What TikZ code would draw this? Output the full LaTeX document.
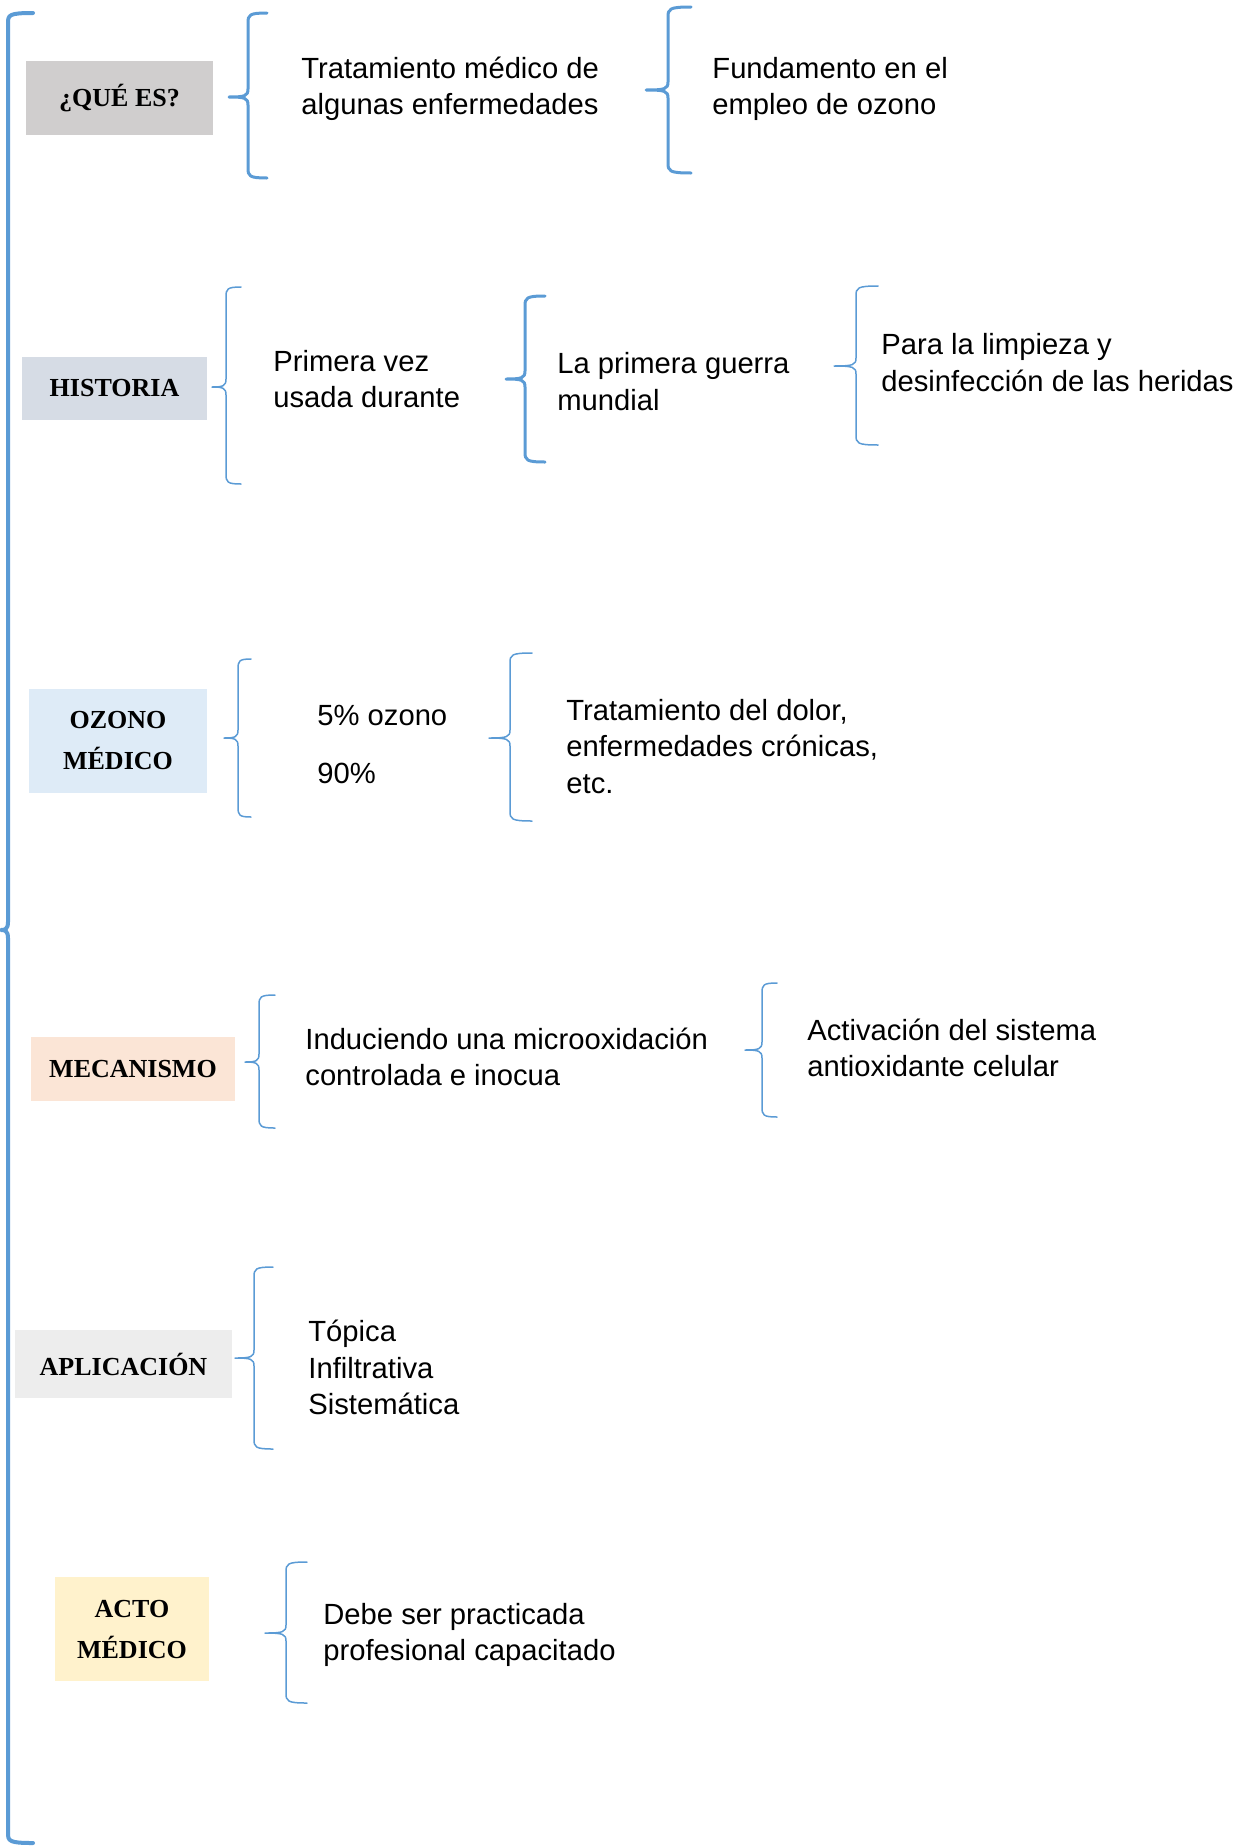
\documentclass[tikz,border=0pt]{standalone}
\usepackage{fontspec}
\setmainfont{Liberation Sans}
\newfontfamily\lblfont{Liberation Serif}
\definecolor{brcblue}{HTML}{5B9BD5}
\definecolor{cqes}{HTML}{D0CECE}
\definecolor{chis}{HTML}{D6DCE5}
\definecolor{cozo}{HTML}{DEEBF7}
\definecolor{cmec}{HTML}{FBE5D6}
\definecolor{capl}{HTML}{EDEDED}
\definecolor{cact}{HTML}{FFF2CC}
\newcommand\lbrc[7]{%
  \draw[brcblue,line cap=round,line join=round,#1]
    (#7,#5) .. controls ({#4+1},#5) and (#4,{#5+2}) .. (#4,{#5+10})
    -- (#4,{#3-8}) .. controls (#4,{#3-1}) and ({#4-3},#3) .. (#2,#3)
    .. controls ({#4-3},#3) and (#4,{#3+1}) .. (#4,{#3+8})
    -- (#4,{#6-10}) .. controls (#4,{#6-2}) and ({#4+1},#6) .. (#7,#6);}
\begin{document}
\begin{tikzpicture}[x=0.5pt,y=-0.5pt,
  thick brc/.style={line width=1.5pt},
  thin brc/.style={line width=0.75pt},
  big brc/.style={line width=2pt},
  lbl/.style={inner sep=0pt, align=center,
    font=\lblfont\bfseries\fontsize{13}{20.5}\selectfont},
  txt/.style={inner sep=0pt, anchor=west, align=left,
    font=\fontsize{14.6}{18.25}\selectfont}]
\useasboundingbox (0,0) rectangle (1241,1847);

% big brace
\lbrc{big brc}{1}{930}{8}{13}{1843}{33}

% row 1
\node[lbl, fill=cqes, minimum width=93.5pt, minimum height=37pt] (qes) at (119.5,98) {¿QUÉ ES?};
\lbrc{thick brc}{229}{97}{248}{13}{178}{267}
\node[txt] (t1a) at (301,89) {Tratamiento médico de\\algunas enfermedades};
\lbrc{thick brc}{646}{90}{668}{7}{173}{691}
\node[txt] (t1b) at (712,89) {Fundamento en el\\empleo de ozono};

% row 2
\node[lbl, fill=chis, minimum width=92.5pt, minimum height=31.5pt] (his) at (114.5,388.5) {HISTORIA};
\lbrc{thin brc}{212}{387}{226}{287}{484}{241}
\node[txt] (t2a) at (273,379) {Primera vez\\usada durante};
\lbrc{thick brc}{506}{379}{525}{296}{462}{545}
\node[txt] (t2b) at (557,381.5) {La primera guerra\\mundial};
\lbrc{thin brc}{834}{366}{856}{286}{445}{878}
\node[txt] (t2c) at (881,362.5) {Para la limpieza y\\desinfección de las heridas};

% row 3
\node[lbl, fill=cozo, minimum width=89pt, minimum height=52pt] (ozo) at (118,741) {OZONO\\MÉDICO};
\lbrc{thin brc}{224}{738}{238}{659}{817}{251}
\node[txt] (t3a) at (317,716) {5\% ozono};
\node[txt] (t3b) at (317,773) {90\%};
\lbrc{thin brc}{489}{738}{510}{653}{821}{532}
\node[txt] (t3c) at (566,746.5) {Tratamiento del dolor,\\enfermedades crónicas,\\etc.};

% row 4
\node[lbl, fill=cmec, minimum width=102pt, minimum height=32pt] (mec) at (133,1069) {MECANISMO};
\lbrc{thin brc}{245}{1062}{259}{995}{1128}{275}
\node[txt] (t4a) at (305,1057) {Induciendo una microoxidación\\controlada e inocua};
\lbrc{thin brc}{745}{1050}{762}{983}{1117}{777}
\node[txt] (t4b) at (807,1048) {Activación del sistema\\antioxidante celular};

% row 5
\node[lbl, fill=capl, minimum width=108.5pt, minimum height=34pt] (apl) at (123.5,1364) {APLICACIÓN};
\lbrc{thin brc}{235}{1358}{254}{1267}{1449}{273}
\node[txt] (t5) at (308,1367.5) {Tópica\\Infiltrativa\\Sistemática};

% row 6
\node[lbl, fill=cact, minimum width=77pt, minimum height=52pt] (act) at (132,1629) {ACTO\\MÉDICO};
\lbrc{thin brc}{265}{1633}{286}{1562}{1703}{307}
\node[txt] (t6) at (323,1635) {Debe ser practicada\\profesional capacitado};
\end{tikzpicture}
\end{document}
